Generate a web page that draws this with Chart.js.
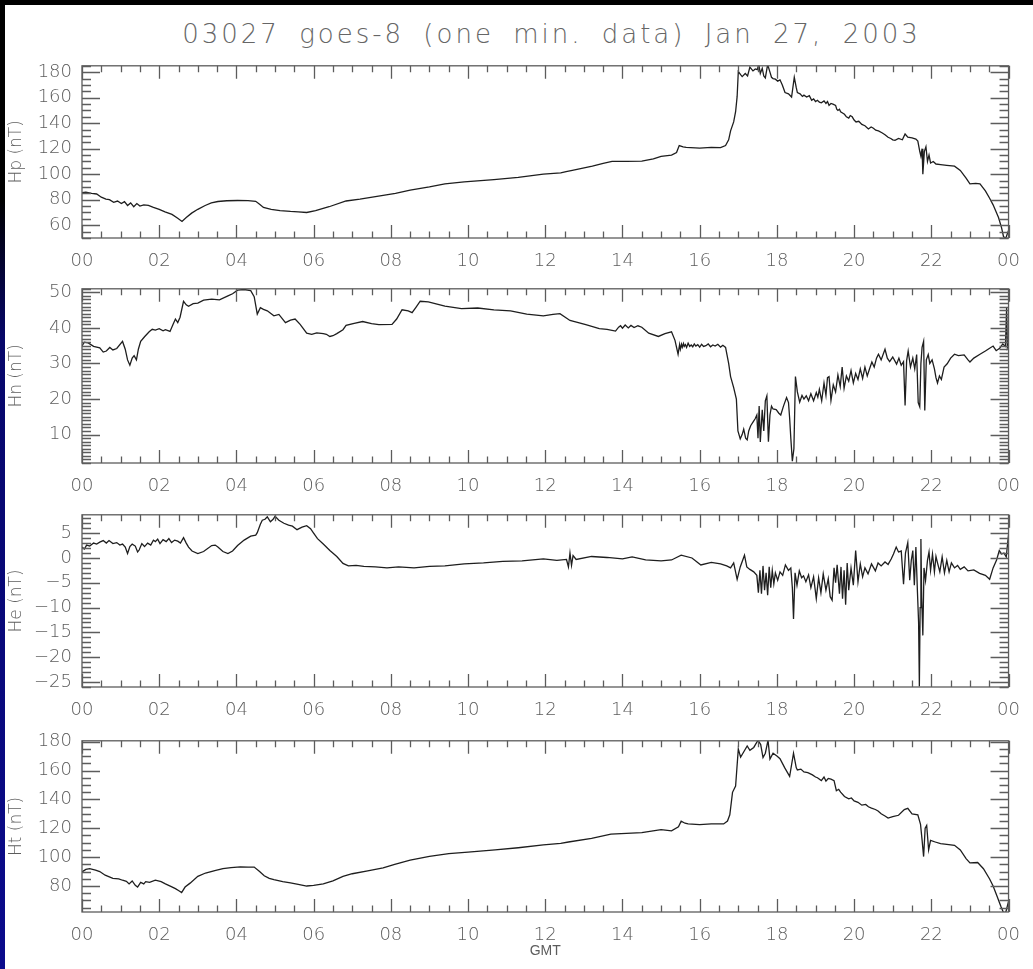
<!DOCTYPE html>
<html>
<head>
<meta charset="utf-8">
<title>goes-8 magnetometer</title>
<script src="https://cdn.jsdelivr.net/npm/chart.js@4.4.1/dist/chart.umd.min.js"></script>
<style>
  html, body { margin: 0; padding: 0; }
  body {
    width: 1033px; height: 969px; position: relative; overflow: hidden;
    background: linear-gradient(180deg, #000 0px, #000 200px, #07076a 340px, #0b0b8c 969px);
  }
  #sheet { position: absolute; left: 5px; top: 5px; width: 1028px; height: 964px; background: #fff; }
  #title {
    position: absolute; left: 80px; width: 943px; top: 19px; height: 30px; line-height: 30px;
    text-align: center; font-family: "DejaVu Sans", sans-serif; font-weight: 200; font-size: 26px;
    color: #666; letter-spacing: 3px; word-spacing: 8px; white-space: nowrap;
  }
  canvas { position: absolute; left: 0; }
</style>
</head>
<body>
<div id="sheet"></div>
<div id="title">03027 goes-8 (one min. data) Jan 27, 2003</div>

<script>
// hour ticks along the bottom of every panel (24 prints as 00)
const hourTicks = [0, 2, 4, 6, 8, 10, 12, 14, 16, 18, 20, 22, 24];

const hpTicks = [60, 80, 100, 120, 140, 160, 180];
const hnTicks = [10, 20, 30, 40, 50];
const heTicks = [-25, -20, -15, -10, -5, 0, 5];
const htTicks = [80, 100, 120, 140, 160, 180];

// Hp component
const hpHours = [0.00,0.10,0.25,0.38,0.50,0.62,0.71,0.82,0.92,1.02,
  1.10,1.18,1.26,1.34,1.42,1.50,1.60,1.72,1.85,2.00,
  2.15,2.33,2.48,2.59,2.70,2.84,3.00,3.19,3.35,3.52,
  3.75,4.03,4.30,4.50,4.60,4.70,4.90,5.13,5.40,5.60,
  5.82,6.05,6.40,6.84,7.20,7.60,8.12,8.50,9.00,9.40,
  9.90,10.67,11.30,11.95,12.40,12.54,12.70,13.22,13.50,13.73,
  14.10,14.50,14.80,15.00,15.27,15.40,15.47,15.57,15.65,16.00,
  16.30,16.54,16.67,16.75,16.80,16.88,16.93,16.97,17.00,17.06,
  17.10,17.18,17.24,17.30,17.38,17.44,17.49,17.53,17.57,17.62,
  17.66,17.70,17.76,17.82,17.86,17.90,17.96,18.02,18.08,18.14,
  18.21,18.30,18.38,18.45,18.50,18.53,18.60,18.66,18.70,18.77,
  18.84,18.90,18.95,19.00,19.05,19.10,19.15,19.22,19.27,19.31,
  19.35,19.40,19.45,19.52,19.55,19.58,19.62,19.65,19.70,19.75,
  19.80,19.86,19.90,19.95,20.00,20.05,20.12,20.20,20.28,20.37,
  20.44,20.50,20.56,20.63,20.72,20.80,20.88,20.95,21.00,21.06,
  21.15,21.25,21.32,21.39,21.50,21.60,21.65,21.70,21.73,21.76,
  21.78,21.82,21.86,21.90,21.94,21.98,22.05,22.12,22.24,22.40,
  22.60,22.75,22.90,23.00,23.15,23.26,23.40,23.51,23.60,23.74,
  23.82,23.87,23.93,24.00];
const hpValues = [85.5,86,85,84.5,82,80.5,80,78,79,77,
  78.5,75.5,77.5,74.5,77,75,76,75.5,74,72.5,
  70.5,68.5,65.5,63,66,69.5,72.5,75.5,77.5,78.6,
  79.2,79.4,79.3,78.8,76.5,74,72.5,71.5,70.8,70.5,
  70,71.5,74.5,79,80.5,82.5,85,87.5,90,92.5,
  94,95.8,97.5,100,101,102,103,106.3,108.5,110,
  110,110.2,112,114,115,117,122.5,121.5,121,120.5,
  121,120.8,122.5,127,134,141,149,161,180.5,178,
  176.5,179,177,184,181,182.5,182,186,179,183,
  177,175.5,186,180,176,175,174.5,173,174,170,
  164,163,160.5,176,168,164,163,161,162,160.5,
  161.6,158,159,157,158,156.5,156,157.5,155.5,157,
  154,155.5,155,154,151,150,151,149,148,147,
  145,144,146,145,142.5,141,141.5,139,138,135.5,
  137,136,134.5,134,132.5,131,129,128,127,126.5,
  128,127,131.5,129,128.5,127.5,126,118,114,120,
  100,118,121.5,110,115,108.8,110,108,107.6,107,
  106.3,103,97,92.5,92.8,92.5,87,81.2,76,66,
  58,51,50,56];

// Hn component
const hnHours = [0.00,0.06,0.16,0.30,0.46,0.55,0.63,0.72,0.80,0.90,
  1.05,1.12,1.18,1.24,1.30,1.35,1.41,1.46,1.52,1.62,
  1.74,1.82,1.90,2.00,2.10,2.16,2.28,2.36,2.42,2.48,
  2.54,2.63,2.70,2.76,2.88,3.00,3.15,3.36,3.56,3.78,
  3.90,4.03,4.20,4.37,4.46,4.54,4.62,4.70,4.80,4.97,
  5.10,5.27,5.40,5.52,5.65,5.82,5.95,6.08,6.25,6.33,
  6.42,6.50,6.60,6.76,6.84,7.05,7.27,7.50,7.69,8.03,
  8.15,8.29,8.45,8.55,8.65,8.76,8.97,9.40,9.83,10.25,
  10.67,11.10,11.52,11.95,12.20,12.38,12.64,13.05,13.40,13.60,
  13.82,13.90,13.95,14.00,14.07,14.15,14.22,14.30,14.40,14.50,
  14.68,14.93,15.10,15.27,15.36,15.44,15.48,15.50,15.53,15.55,
  15.58,15.60,15.63,15.66,15.70,15.74,15.78,15.82,15.86,15.90,
  15.95,16.00,16.05,16.10,16.16,16.22,16.28,16.34,16.40,16.47,
  16.54,16.60,16.67,16.75,16.80,16.88,16.95,16.99,17.05,17.10,
  17.14,17.19,17.23,17.27,17.32,17.38,17.44,17.48,17.51,17.54,
  17.57,17.62,17.66,17.70,17.74,17.78,17.82,17.86,17.90,17.98,
  18.05,18.10,18.17,18.25,18.30,18.33,18.36,18.40,18.44,18.48,
  18.53,18.59,18.65,18.70,18.76,18.82,18.88,18.95,19.02,19.06,
  19.10,19.16,19.22,19.27,19.31,19.35,19.40,19.46,19.52,19.58,
  19.64,19.69,19.74,19.80,19.86,19.92,19.98,20.04,20.10,20.16,
  20.22,20.28,20.34,20.40,20.46,20.52,20.58,20.63,20.70,20.80,
  20.86,20.92,21.00,21.10,21.16,21.22,21.28,21.32,21.36,21.40,
  21.46,21.52,21.57,21.62,21.66,21.70,21.73,21.76,21.80,21.83,
  21.87,21.92,21.96,22.02,22.08,22.12,22.16,22.21,22.26,22.33,
  22.41,22.50,22.60,22.70,22.85,22.95,23.00,23.10,23.26,23.40,
  23.50,23.60,23.68,23.77,23.85,23.92,23.95,23.97,24.00];
const hnValues = [34.9,36,35.8,34.8,34.4,33.2,33.5,34.5,33.8,34.2,
  36.2,34,31,29.5,31.5,32.2,31,34,36.2,37.5,
  38.9,39.6,39.4,39.8,39.2,39.5,39,41,42.5,41.5,
  43,47.5,46.5,46.1,46.8,47,47.8,48.1,47.9,49,
  49.6,50.6,50.8,50.5,48.8,43.9,45.7,45.2,44.8,43.4,
  43.8,41.5,42.2,42.5,41,38.5,38.2,38.6,38.4,38.2,
  37.6,37.8,38.4,39.5,40.7,41.3,41.8,41.2,40.9,41,
  42.5,45.1,44.8,44.3,45.8,47.5,47.3,46.1,45.4,45.6,
  45.1,44.8,43.9,43.4,43.8,44,42.1,40.9,39.8,39.6,
  39.1,40.2,40.6,39.9,40.8,40,40.7,40.1,40.6,40.2,
  38.5,37.6,38.4,38.9,36.5,32.6,35.3,34.0,35.4,34.6,
  35.6,34.8,35.3,34.5,35.7,34.8,35.2,34.7,35.5,34.9,
  35.3,34.6,35.4,34.8,35.0,35.5,34.7,35.2,34.9,35.4,
  34.6,35.1,34.5,30,26.3,23.2,20,11,8.8,10,
  11.5,9,8.5,11,12.5,13.5,14.5,15.5,9,18,
  7.9,17,11,19.5,20.9,8,15.5,18,17.2,17,
  16,15.5,18,20.4,19,14.6,9,2.5,6,26.3,
  22,19.1,21,20,20.9,19.5,21.5,19.5,21.8,20.5,
  22.7,19.5,24.5,21,26,26.3,19.6,24,22,26.8,
  23.5,29,23,26.5,25,28,24.5,27.2,25.5,28.5,
  25.8,29,26.5,28.5,30.4,29,31.5,32.6,31,34,
  31.5,30.5,31.8,29.8,31.5,29.5,30.5,18.2,30.8,33.5,
  29,31.5,28.5,32.5,19,17.8,30,34.5,36.2,16.8,
  31,32.5,30,31,28.5,26,24.5,26.5,25.5,29,
  29.9,31.5,32.6,32.2,32.4,31,30.4,31.5,32.6,33.5,
  34.2,34.9,33.6,34.3,35.5,34.8,45.7,34.5,35.5];

// He component
const heHours = [0.00,0.06,0.12,0.20,0.30,0.38,0.46,0.55,0.63,0.70,
  0.80,0.90,0.98,1.05,1.12,1.18,1.24,1.30,1.38,1.44,
  1.48,1.55,1.62,1.70,1.78,1.85,1.90,1.96,2.02,2.10,
  2.18,2.25,2.32,2.40,2.48,2.55,2.63,2.70,2.76,2.85,
  3.00,3.15,3.36,3.45,3.52,3.65,3.78,3.90,4.03,4.20,
  4.37,4.50,4.54,4.62,4.67,4.74,4.80,4.88,4.95,5.00,
  5.10,5.23,5.35,5.45,5.57,5.70,5.82,5.92,5.99,6.10,
  6.25,6.42,6.60,6.76,6.90,7.10,7.30,7.60,7.90,8.20,
  8.60,9.00,9.40,9.90,10.40,10.90,11.40,11.95,12.30,12.55,
  12.60,12.64,12.68,12.72,12.80,13.20,13.60,14.00,14.25,14.60,
  15.00,15.27,15.52,15.80,16.03,16.30,16.54,16.70,16.80,16.88,
  16.97,17.05,17.16,17.22,17.30,17.40,17.48,17.52,17.56,17.60,
  17.64,17.68,17.72,17.76,17.80,17.84,17.88,17.92,17.96,18.02,
  18.08,18.15,18.22,18.30,18.36,18.40,18.43,18.47,18.52,18.58,
  18.64,18.69,18.75,18.82,18.88,18.95,19.02,19.08,19.14,19.20,
  19.27,19.33,19.38,19.43,19.48,19.52,19.56,19.62,19.66,19.70,
  19.74,19.78,19.82,19.86,19.92,19.98,20.04,20.10,20.16,20.22,
  20.28,20.36,20.45,20.55,20.62,20.70,20.80,20.88,20.96,21.02,
  21.09,21.15,21.22,21.28,21.33,21.39,21.44,21.48,21.52,21.56,
  21.60,21.64,21.67,21.69,21.71,21.73,21.75,21.78,21.81,21.85,
  21.90,21.94,21.98,22.03,22.08,22.12,22.16,22.22,22.28,22.34,
  22.40,22.46,22.52,22.60,22.68,22.75,22.85,22.95,23.10,23.25,
  23.40,23.51,23.60,23.69,23.76,23.82,23.88,23.94,24.00];
const heValues = [2.2,1.8,2.6,2.4,3.0,2.8,3.2,3.5,3.0,3.5,
  2.9,3.1,2.6,2.8,2.2,0.9,2.3,2.8,2.4,1.2,
  1.6,2.9,2.3,3.0,2.6,3.6,3.3,3.8,2.9,3.7,
  3.3,3.9,3.1,3.6,3.4,3.0,4.1,3.0,2.2,1.4,
  0.9,1.3,2.5,2.6,2.2,1.3,0.9,1.4,2.5,3.6,
  4.4,4.6,5.1,6.8,7.6,7.8,8.3,7.3,7.8,8.4,
  7.6,7.0,6.6,6.4,5.7,6.2,6.5,5.9,5.1,3.9,
  2.8,1.5,0.3,-1.1,-1.6,-1.5,-1.7,-1.8,-2.0,-1.8,
  -2.0,-1.7,-1.6,-1.2,-1.0,-0.7,-0.6,-0.2,-0.5,-0.3,
  -1.8,1.0,-1.5,0.5,-0.3,0.3,0.1,-0.2,0.2,-0.4,
  -0.6,-0.4,0.55,0.0,-1.4,-0.9,-1.2,-1.6,-2.0,-1.0,
  -4.3,-1.8,0.55,-1.8,-2.3,-2.8,-3.5,-7,-2.5,-7.2,
  -1.6,-6.5,-3,-7.5,-1.8,-6,-2.5,-5.2,-3,-4.5,
  -2.8,-3.5,-1.4,-2.5,-2.0,-6,-12.3,-3,-5.5,-2.6,
  -4,-3.6,-4.8,-3.4,-6,-3.8,-8.2,-4,-7,-3.2,
  -6.5,-4.2,-7.8,-8.5,-2,-5,-1.4,-7.2,-1.8,-8.2,
  -2.5,-9.4,-1.0,-6.5,-2.0,-5.5,1.5,-4.8,-1.2,-3.8,
  -2,-3.2,-1.2,-2.6,-1.0,-1.6,-0.8,-1.3,-0.2,0.8,
  2.2,1.2,1.4,-5.3,1.0,3.1,-4.5,-0.5,1.5,-5.5,
  2.2,-6.8,-13,-25.9,-10,3.8,-8,-15.6,-2,-4.5,
  -0.5,1.2,-2.5,0.8,-2.8,0.3,-1.0,-2.8,0.2,-3.0,
  -0.5,-2.8,-1.0,-2.0,-1.5,-2.3,-1.8,-2.6,-2.4,-3.1,
  -3.5,-4.3,-2.0,-0.4,1.5,0.8,1.0,0.2,4.7];

// Ht total field
const htHours = [0.00,0.10,0.20,0.35,0.46,0.60,0.80,0.95,1.05,1.15,
  1.22,1.30,1.38,1.44,1.52,1.60,1.65,1.75,1.90,2.05,
  2.16,2.30,2.42,2.52,2.58,2.67,2.80,3.00,3.20,3.44,
  3.65,3.86,4.10,4.30,4.46,4.60,4.72,4.85,4.97,5.20,
  5.40,5.60,5.82,6.00,6.25,6.50,6.76,7.00,7.40,7.80,
  8.10,8.50,9.00,9.50,10.00,10.70,11.30,11.95,12.40,12.60,
  13.20,13.70,14.10,14.50,15.00,15.27,15.45,15.52,15.62,15.70,
  16.00,16.30,16.62,16.72,16.78,16.85,16.93,17.00,17.06,17.12,
  17.23,17.30,17.40,17.51,17.58,17.64,17.70,17.77,17.82,17.90,
  18.00,18.08,18.20,18.33,18.43,18.50,18.53,18.62,18.70,18.80,
  18.92,19.00,19.05,19.15,19.22,19.27,19.33,19.40,19.48,19.54,
  19.60,19.65,19.75,19.86,19.93,20.00,20.10,20.20,20.30,20.37,
  20.45,20.55,20.62,20.70,20.80,20.88,21.00,21.15,21.30,21.39,
  21.50,21.65,21.72,21.76,21.80,21.84,21.88,21.93,21.98,22.10,
  22.24,22.40,22.60,22.75,22.90,23.00,23.20,23.35,23.51,23.60,
  23.69,23.80,23.87,23.93,24.00];
const htValues = [89.8,91.5,92,91,90,87.5,85.3,85,84,83.3,
  81.5,83.5,80.5,79.3,82.5,81.5,83,82.5,84,83,
  81.5,79.8,78.2,76.5,75.5,79.3,82,86.7,89,90.7,
  92,92.7,93.2,93.1,93.1,90,87.1,85.3,84.4,83,
  82.2,81.2,80,80.5,81.5,83.5,86.7,88.5,90.5,92.5,
  95,98,100.5,102.5,103.5,105,106.5,108.5,109.5,110.5,
  113,116,116.5,117,119,118.2,121,124.9,123.5,123.1,
  122.5,123,123,125,129.3,144.9,149.3,174.9,169.3,172,
  177,174,176,181,178,169,172,181,168,172,
  170,168.2,162,156,172,162,160.4,161,159,158.5,
  157,155.5,155,153,155.5,152.7,154.5,154,153,146,
  147,145,142,140.4,141,139,138,136,136.5,134.9,
  134,133,132,130,128.5,127.1,128,129,133,133.8,
  130,129.3,122.7,112,100.4,120,122,105,111.6,110.5,
  109.3,108.8,108.2,105,99,96,96.3,92,84.9,80,
  73.8,66,61.5,62,69.3];

const axisGray = '#5c5c5c';
const traceColor = '#1e1e1e';
const tickFont = { family: "'DejaVu Sans', sans-serif", size: 18, weight: '200' };

// Panel frames: box, inward ticks on all four sides (IDL style)
const boxTicks = {
  id: 'boxTicks',
  afterDatasetsDraw(chart, args, opts) {
    const { ctx, chartArea: a } = chart;
    const x = chart.scales.x, y = chart.scales.y;
    ctx.save();
    ctx.strokeStyle = axisGray;
    ctx.lineWidth = 1.3;
    ctx.strokeRect(a.left, a.top, a.right - a.left, a.bottom - a.top);
    ctx.beginPath();
    for (let h = 0; h <= 24; h += 0.5) {
      const px = Math.round(x.getPixelForValue(h)) + 0.5;
      const len = h % 2 === 0 ? 13 : 6.5;
      ctx.moveTo(px, a.bottom); ctx.lineTo(px, a.bottom - len);
      ctx.moveTo(px, a.top); ctx.lineTo(px, a.top + len);
    }
    const first = Math.ceil(y.min / opts.minor) * opts.minor;
    for (let v = first; v <= y.max + 1e-6; v += opts.minor) {
      const py = Math.round(y.getPixelForValue(v)) + 0.5;
      const major = opts.major.some(t => Math.abs(t - v) < 1e-6);
      const len = major ? 18 : 9;
      ctx.moveTo(a.left, py); ctx.lineTo(a.left + len, py);
      ctx.moveTo(a.right, py); ctx.lineTo(a.right - len, py);
    }
    ctx.stroke();
    ctx.restore();
  }
};

const panels = [
  { label: 'Hp (nT)', hours: hpHours, values: hpValues, major: hpTicks, min: 50, max: 185, minor: 5, top: 59, bottom: 238 },
  { label: 'Hn (nT)', hours: hnHours, values: hnValues, major: hnTicks, min: 2, max: 51, minor: 1, top: 282, bottom: 463 },
  { label: 'He (nT)', hours: heHours, values: heValues, major: heTicks, min: -26, max: 8.7, minor: 1, top: 508, bottom: 687 },
  { label: 'Ht (nT)', hours: htHours, values: htValues, major: htTicks, min: 62, max: 180.6, minor: 5, top: 734, bottom: 912, last: true }
];

const padTop = 14;

panels.forEach(p => {
  const axisH = p.last ? 969 - p.bottom : 36;
  const canvas = document.createElement('canvas');
  canvas.width = 1033;
  canvas.height = padTop + (p.bottom - p.top) + axisH;
  canvas.style.top = (p.top - padTop) + 'px';
  document.body.appendChild(canvas);

  new Chart(canvas, {
    type: 'line',
    data: {
      datasets: [{
        data: p.hours.map((h, i) => ({ x: h, y: p.values[i] })),
        borderColor: traceColor,
        borderWidth: 1.3,
        pointRadius: 0,
        tension: 0
      }]
    },
    options: {
      responsive: false,
      devicePixelRatio: 1,
      animation: false,
      events: [],
      layout: { padding: { top: padTop, right: 11, left: 0, bottom: 0 } },
      plugins: {
        legend: { display: false },
        tooltip: { enabled: false },
        boxTicks: { major: p.major, minor: p.minor }
      },
      scales: {
        x: {
          type: 'linear',
          min: 0,
          max: 24,
          grid: { display: false, drawTicks: false },
          border: { display: false },
          afterBuildTicks: s => { s.ticks = hourTicks.map(v => ({ value: v })); },
          afterFit: s => { s.height = axisH; },
          ticks: {
            autoSkip: false,
            maxRotation: 0,
            padding: 13,
            color: axisGray,
            font: tickFont,
            callback: v => String(v % 24).padStart(2, '0')
          },
          title: {
            display: !!p.last,
            text: 'GMT',
            color: axisGray,
            font: { family: "'Liberation Sans', sans-serif", size: 14 },
            padding: { top: 0, bottom: 9 }
          }
        },
        y: {
          type: 'linear',
          min: p.min,
          max: p.max,
          grid: { display: false, drawTicks: false },
          border: { display: false },
          afterBuildTicks: s => { s.ticks = p.major.map(v => ({ value: v })); },
          afterFit: s => { s.width = 82; },
          ticks: {
            padding: 10,
            color: axisGray,
            font: tickFont,
            callback: v => String(v).replace('-', '\u2212')
          },
          title: {
            display: true,
            text: p.label,
            color: axisGray,
            font: { family: "'DejaVu Sans', sans-serif", size: 17, weight: '200' },
            padding: { top: 6, bottom: 0 }
          }
        }
      }
    },
    plugins: [boxTicks]
  });
});
</script>
</body>
</html>
